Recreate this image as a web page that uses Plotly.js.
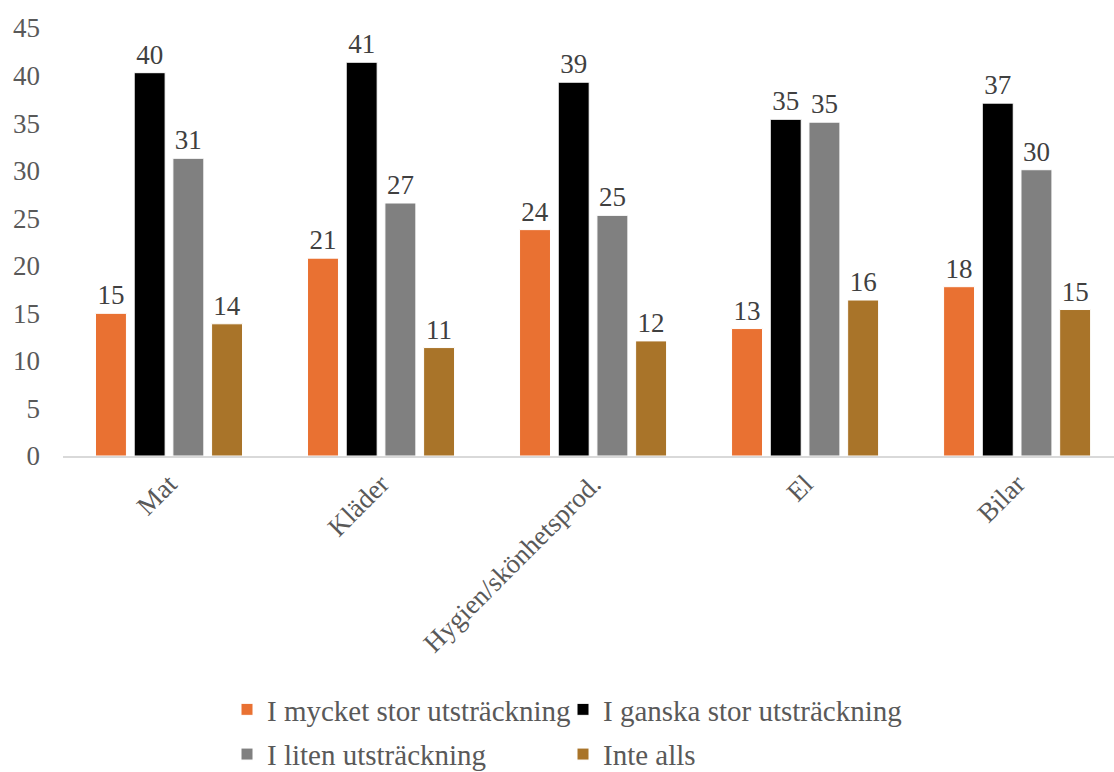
<!DOCTYPE html>
<html>
<head>
<meta charset="utf-8">
<script src="https://cdn.plot.ly/plotly-3.0.1.min.js"></script>
<style>
html,body{margin:0;padding:0;background:#fff;overflow:hidden}
#chart{width:1114px;height:772px}
</style>
</head>
<body>
<div id="chart"></div>
<script>
const categories = ["Mat", "Kläder", "Hygien/skönhetsprod.", "El", "Bilar"];
const seriesNames = ["I mycket stor utsträckning", "I ganska stor utsträckning", "I liten utsträckning", "Inte alls"];
const mycketStor = [15.0, 20.8, 23.8, 13.4, 17.8];
const ganskaStor = [40.3, 41.4, 39.3, 35.4, 37.1];
const liten = [31.3, 26.6, 25.3, 35.1, 30.1];
const inteAlls = [13.9, 11.4, 12.1, 16.4, 15.4];
const yTicks = [0, 5, 10, 15, 20, 25, 30, 35, 40, 45];

const colors = ["#E97132", "#000000", "#808080", "#A97429"];
const values = [mycketStor, ganskaStor, liten, inteAlls];
const legendIds = ["legend", "legend2", "legend", "legend2"];
const font = "'Liberation Serif', 'Times New Roman', Times, serif";

const traces = values.map((v, i) => ({
  type: "bar",
  name: seriesNames[i],
  legend: legendIds[i],
  legendgroup: "g" + i,
  x: categories,
  y: v,
  marker: {color: colors[i], line: {color: "#ffffff", width: 1}},
  texttemplate: "%{y:.0f}",
  textposition: "outside",
  constraintext: "none",
  cliponaxis: false,
  textfont: {family: font, size: 27, color: "#404040"},
  hoverinfo: "x+y"
}));

const legendBase = {
  orientation: "v",
  xref: "container", yref: "container",
  xanchor: "left", yanchor: "top",
  y: 1 - 684 / 772,
  font: {family: font, size: 29, color: "#595959"},
  itemwidth: 30,
  traceorder: "grouped",
  tracegroupgap: 4,
  bgcolor: "rgba(0,0,0,0)"
};

const layout = {
  width: 1114, height: 772,
  margin: {l: 63, r: 0, t: 28, b: 316, autoexpand: false},
  paper_bgcolor: "#ffffff", plot_bgcolor: "#ffffff",
  font: {family: font, color: "#595959", size: 26},
  barmode: "group",
  bargap: 0.27,
  bargroupgap: 0.2,
  xaxis: {
    type: "category",
    range: [-0.5, 4.457],
    showline: true, linecolor: "#d9d9d9", linewidth: 1.5,
    showgrid: false, zeroline: false, ticks: "",
    tickangle: -45,
    automargin: false,
    tickfont: {family: font, size: 27, color: "#595959"}
  },
  yaxis: {
    range: [0, 45],
    tickvals: yTicks,
    showgrid: false, zeroline: false, showline: false, ticks: "",
    ticklabelstandoff: 22,
    automargin: false,
    tickfont: {family: font, size: 27, color: "#595959"}
  },
  showlegend: true,
  legend: Object.assign({}, legendBase, {x: 227 / 1114}),
  legend2: Object.assign({}, legendBase, {x: 563 / 1114})
};

Plotly.newPlot("chart", traces, layout, {displayModeBar: false, staticPlot: true});
</script>
</body>
</html>
